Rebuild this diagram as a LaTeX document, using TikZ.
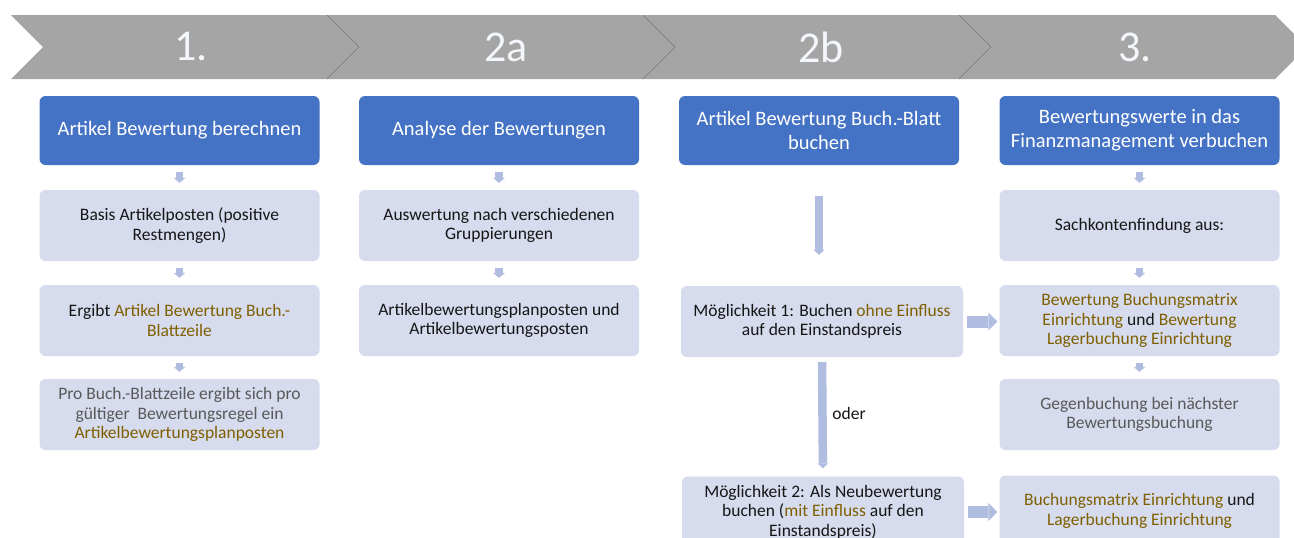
\documentclass[tikz,border=0pt]{standalone}
\usepackage{fontspec}
\setmainfont{Carlito}
\usetikzlibrary{arrows.meta,calc}
\definecolor{bandgray}{RGB}{165,165,165}
\definecolor{divgray}{RGB}{118,118,118}
\definecolor{headblue}{RGB}{68,114,196}
\definecolor{boxfill}{RGB}{214,219,237}
\definecolor{arrcol}{RGB}{176,189,224}
\definecolor{gold}{RGB}{127,96,0}
\definecolor{graytext}{RGB}{89,89,89}
\definecolor{darktext}{RGB}{22,22,22}
\definecolor{numcol}{RGB}{243,246,250}
\newcommand{\gd}[1]{\textcolor{gold}{#1}}
\newcommand{\gy}[1]{\textcolor{graytext}{#1}}
\begin{document}
\begin{tikzpicture}[x=1pt,y=-1pt,
  headbox/.style={rectangle, rounded corners=6pt, fill=headblue, text=white,
    minimum width=280pt, minimum height=69pt, align=center, inner sep=0pt,
    font=\fontsize{20.5}{24}\selectfont},
  lightbox/.style={rectangle, rounded corners=6pt, fill=boxfill, text=darktext,
    minimum width=280pt, minimum height=71pt, align=center, inner sep=0pt,
    font=\fontsize{17.5}{19.5}\selectfont},
  numtext/.style={text=numcol, inner sep=0pt, font=\fontsize{44}{50}\selectfont},
  smallarr/.style={draw=arrcol, line width=7.5pt,
    -{Triangle[length=5pt,width=12pt,line width=0pt]},
    shorten <=7pt, shorten >=7pt},
  longarr/.style={draw=arrcol, line width=8.5pt,
    -{Triangle[length=5pt,width=11pt,line width=0pt]}},
  rightarr/.style={draw=arrcol, line width=12pt,
    -{Triangle[length=9pt,width=18pt,line width=0pt]},
    shorten <=4pt, shorten >=2pt}
]
\useasboundingbox (0,0) rectangle (1294,538);
\clip (0,0) rectangle (1294,538);
\fill[white] (0,0) rectangle (1294,538);

% chevron band
\fill[bandgray] (11,15) -- (1275,15) -- (1307,47) -- (1275,79) -- (11,79) -- (43,47) -- cycle;
\foreach \x in {327,643,959}{
  \draw[divgray, line width=0.6pt] (\x,15) -- (\x+32,47) -- (\x,79);
}
\node[numtext] (n1) at (191,47) {1.};
\node[numtext] (n2) at (506,47) {2a};
\node[numtext] (n3) at (821,47) {2b};
\node[numtext] (n4) at (1135,47) {3.};

% column 1
\node[headbox] (h1) at (179.5,130.5) {Artikel Bewertung berechnen};
\node[lightbox] (a1) at (179.5,225.5) {Basis Artikelposten (positive\\Restmengen)};
\node[lightbox] (a2) at (179.5,320.5) {Ergibt \gd{Artikel Bewertung Buch.-}\\\gd{Blattzeile}};
\node[lightbox] (a3) at (179.5,414.5) {\gy{Pro Buch.-Blattzeile ergibt sich pro}\\\gy{gültiger~ Bewertungsregel ein}\\\gd{Artikelbewertungsplanposten}};
\draw[smallarr] (h1) -- (a1);
\draw[smallarr] (a1) -- (a2);
\draw[smallarr] (a2) -- (a3);

% column 2
\node[headbox] (h2) at (499,130.5) {Analyse der Bewertungen};
\node[lightbox] (b1) at (499,225.5) {Auswertung nach verschiedenen\\Gruppierungen};
\node[lightbox] (b2) at (499,320.5) {Artikelbewertungsplanposten und\\Artikelbewertungsposten};
\draw[smallarr] (h2) -- (b1);
\draw[smallarr] (b1) -- (b2);

% column 3
\node[headbox] (h3) at (819,130.5) {Artikel Bewertung Buch.-Blatt\\buchen};
\node[lightbox, minimum width=282pt] (m1) at (822,321.5) {Möglichkeit 1: Buchen \gd{ohne Einfluss}\\auf den Einstandspreis};
\node[lightbox, minimum width=282pt] (m2) at (823,512) {Möglichkeit 2: Als Neubewertung\\buchen (\gd{mit Einfluss} auf den\\Einstandspreis)};
\draw[longarr, shorten <=31pt, shorten >=31pt] (h3.south) -- (h3.south |- m1.north);
\draw[longarr, shorten <=5pt, shorten >=8pt] (m1.south) -- (m2.north);
\node[text=darktext, inner sep=0pt, font=\fontsize{17.5}{19.5}\selectfont] (oder) at (849,413) {oder};

% column 4
\node[headbox] (h4) at (1139.5,130.5) {Bewertungswerte in das\\Finanzmanagement verbuchen};
\node[lightbox] (d1) at (1139.5,225.5) {Sachkontenfindung aus:};
\node[lightbox] (d2) at (1139.5,320.5) {\gd{Bewertung Buchungsmatrix}\\\gd{Einrichtung} und \gd{Bewertung}\\\gd{Lagerbuchung Einrichtung}};
\node[lightbox] (d3) at (1139.5,414.5) {\gy{Gegenbuchung bei nächster}\\\gy{Bewertungsbuchung}};
\node[lightbox] (d4) at (1139.5,511) {\gd{Buchungsmatrix Einrichtung} und\\\gd{Lagerbuchung Einrichtung}};
\draw[smallarr] (h4) -- (d1);
\draw[smallarr] (d1) -- (d2);
\draw[smallarr] (d2) -- (d3);

% cross arrows
\draw[rightarr] (m1.east) -- (m1.east -| d2.west);
\draw[rightarr] (m2.east) -- (m2.east -| d4.west);
\end{tikzpicture}
\end{document}
